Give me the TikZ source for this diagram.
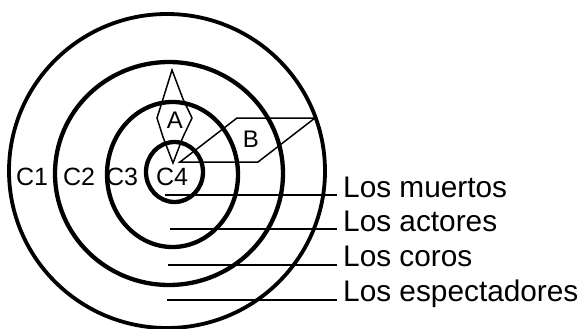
\documentclass[tikz,border=0pt]{standalone}
\usepackage{fontspec}
\setmainfont{Liberation Sans}
\usetikzlibrary{positioning}
\begin{document}
\begin{tikzpicture}[x=1pt,y=-1pt,
  ring/.style={draw=black,line width=4.3pt},
  thin/.style={draw=black,line width=1.5pt},
  lbl/.style={inner sep=0pt,font=\fontsize{25}{25}\selectfont},
  mark lbl/.style={inner sep=0pt,font=\fontsize{24}{24}\selectfont},
  legend/.style={inner xsep=6pt,inner ysep=0pt,anchor=base west,
                 font=\fontsize{29.8}{29.8}\selectfont}
]
  \useasboundingbox (0,0) rectangle (581,329);
  % rings
  \draw[ring,line width=3.8pt] (167,171) ellipse [x radius=158,y radius=157];
  \draw[ring] (169,173.5) ellipse [x radius=114,y radius=111.5];
  \draw[ring] (172.5,174.5) ellipse [x radius=65.5,y radius=72.5];
  \draw[ring] (174.5,172) ellipse [x radius=28.5,y radius=30];

  \node[lbl](c1) at (32,177) {C1};
  \node[lbl](c2) at (79,177) {C2};
  \node[lbl](c3) at (122,177){C3};
  \node[lbl](c4) at (172,177){C4};

  % A and B
  \draw[thin](172,70)--(183,99)--(192,118)--(183,137)--(173,163)
             --(163,137)--(157,118)--(163,99)--cycle;
  \node[mark lbl](a) at (175,120){A};
  \draw[thin](180,162)--(237,118)--(315,118)--(258,162)--cycle;
  \node[mark lbl](b) at (251,139.5){B};

  % legend
  \coordinate (m0) at (165,195);
  \coordinate (a0) at (170,229);
  \coordinate (k0) at (168,265);
  \coordinate (e0) at (167,300);
  \node[legend](muertos)  at (337,197){Los muertos};
  \node[legend](actores)  at (337,231){Los actores};
  \node[legend](coros)    at (337,266){Los coros};
  \node[legend](espect)   at (337,301){Los espectadores};

  \draw[thin](m0)--(m0 -| muertos.west);
  \draw[thin](a0)--(a0 -| actores.west);
  \draw[thin](k0)--(k0 -| coros.west);
  \draw[thin](e0)--(e0 -| espect.west);
\end{tikzpicture}
\end{document}
